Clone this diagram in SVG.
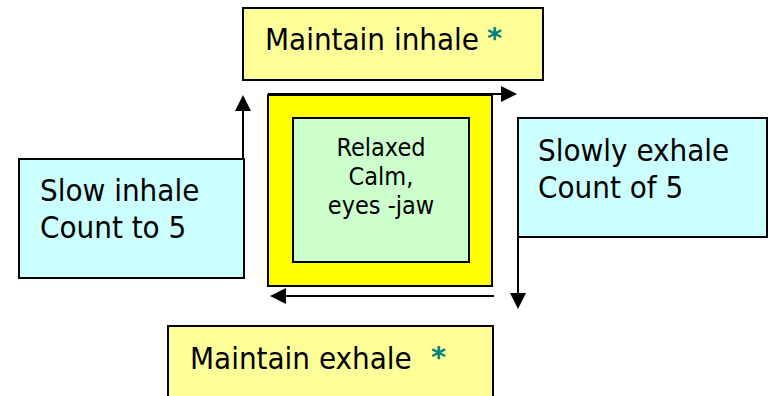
<svg xmlns="http://www.w3.org/2000/svg" width="774" height="396" viewBox="0 0 774 396">
<style>
.box{stroke:#000;stroke-width:2}
.t{font-family:"DejaVu Sans Condensed","Liberation Sans",sans-serif;font-size:31px;fill:#000}
.s{font-family:"DejaVu Sans Condensed","Liberation Sans",sans-serif;font-size:25px;fill:#000;text-anchor:middle}
.ast{font-family:"DejaVu Sans","Liberation Sans",sans-serif;font-weight:bold;font-size:29px;fill:#008080}
.c{stroke:#000;stroke-width:2;fill:none;marker-end:url(#ah)}
</style>
<defs>
<marker id="ah" markerUnits="userSpaceOnUse" markerWidth="17" markerHeight="16" refX="1" refY="8" orient="auto">
<path d="M0,0 L16,8 L0,16 z" fill="#000"/>
</marker>
</defs>
<rect width="774" height="396" fill="#fff"/>
<g id="connectors">
<line class="c" x1="243" y1="278" x2="243" y2="110"/>
<line class="c" x1="268" y1="94" x2="502" y2="94"/>
<line class="c" x1="518" y1="118" x2="518" y2="294"/>
<line class="c" x1="494" y1="296" x2="285" y2="296"/>
</g>
<g id="center">
<rect class="box" x="268" y="95" width="224" height="191" fill="#ffff00"/>
<rect class="box" x="293" y="118" width="176" height="144" fill="#ccffcc"/>
<text class="s" x="381" y="156">Relaxed</text>
<text class="s" x="381" y="185">Calm,</text>
<text class="s" x="381" y="214">eyes -jaw</text>
</g>
<g id="maintain-inhale">
<rect class="box" x="243" y="8" width="300" height="72" fill="#ffff99"/>
<text class="t" x="265" y="50">Maintain inhale</text>
<text class="ast" x="487" y="48">*</text>
</g>
<g id="slow-inhale">
<rect class="box" x="19" y="159" width="225" height="119" fill="#ccffff"/>
<text class="t" x="40" y="201">Slow inhale</text>
<text class="t" x="40" y="238">Count to 5</text>
</g>
<g id="slowly-exhale">
<rect class="box" x="518" y="118" width="249" height="119" fill="#ccffff"/>
<text class="t" x="538" y="161">Slowly exhale</text>
<text class="t" x="538" y="198">Count of 5</text>
</g>
<g id="maintain-exhale">
<rect class="box" x="168" y="326" width="325" height="80" fill="#ffff99"/>
<text class="t" x="190" y="369">Maintain exhale</text>
<text class="ast" x="431" y="367">*</text>
</g>
</svg>
